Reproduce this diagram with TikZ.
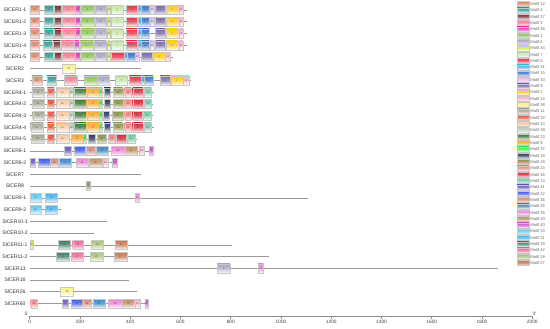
\documentclass[tikz,border=0pt]{standalone}
\usepackage{fontspec}
\setmainfont{Liberation Sans}
\usepackage{xcolor}
\usepackage{tikz}
\usetikzlibrary{positioning}

% motif colours
\definecolor{m12}{HTML}{E0876A}
\definecolor{m4}{HTML}{2E9E94}
\definecolor{m17}{HTML}{7B2F32}
\definecolor{m3}{HTML}{F47C93}
\definecolor{m26}{HTML}{E23CC4}
\definecolor{m1}{HTML}{8DC453}
\definecolor{m6}{HTML}{A8A6C4}
\definecolor{m34}{HTML}{C9F03A}
\definecolor{m7}{HTML}{C8E6A8}
\definecolor{m5}{HTML}{E8334A}
\definecolor{m31}{HTML}{3DB4F2}
\definecolor{m15}{HTML}{3A78D2}
\definecolor{m30}{HTML}{F0B4F0}
\definecolor{m9}{HTML}{7A6AAA}
\definecolor{m2}{HTML}{FFCC11}
\definecolor{m14}{HTML}{F8B4C8}
\definecolor{m38}{HTML}{F8F28A}
\definecolor{m11}{HTML}{A4A894}
\definecolor{m32}{HTML}{F0553A}
\definecolor{m10}{HTML}{FAC8A4}
\definecolor{m39}{HTML}{B8D4BC}
\definecolor{m23}{HTML}{3E7A34}
\definecolor{m8}{HTML}{F8A830}
\definecolor{m37}{HTML}{3EE85A}
\definecolor{m19}{HTML}{2A3A62}
\definecolor{m18}{HTML}{8A9648}
\definecolor{m24}{HTML}{F08484}
\definecolor{m16}{HTML}{D42A3C}
\definecolor{m13}{HTML}{74CCA4}
\definecolor{m41}{HTML}{6A58C8}
\definecolor{m22}{HTML}{3C5CF0}
\definecolor{m36}{HTML}{D48C80}
\definecolor{m25}{HTML}{3A88C8}
\definecolor{m35}{HTML}{F280D4}
\definecolor{m20}{HTML}{C0905E}
\definecolor{m40}{HTML}{CC52CC}
\definecolor{m33}{HTML}{5CCCF2}
\definecolor{m21}{HTML}{44B4F0}
\definecolor{m29}{HTML}{3E7E62}
\definecolor{m42}{HTML}{F0689A}
\definecolor{m28}{HTML}{A8C478}
\definecolor{m27}{HTML}{C47850}

\begin{document}
\begin{tikzpicture}[
    x=1bp, y=-1bp,
    gname/.style={font=\fontsize{5.1}{6}\selectfont, text=black!80, inner sep=0pt},
    backbone/.style={draw=black!40, line width=0.6bp},
    motifbox/.style={draw=black!22, line width=0.3bp, inner sep=0pt, minimum height=9bp, font=\fontsize{2.4}{2.8}\selectfont, text=black!70},
    legbox/.style={draw=black!22, line width=0.3bp, inner sep=0pt, minimum width=12bp, minimum height=5bp},
    legtext/.style={font=\fontsize{4.1}{5}\selectfont, text=black!60, inner sep=0.5bp},
    axisline/.style={draw=black!45, line width=0.6bp},
    ticklabel/.style={font=\fontsize{4.8}{5.5}\selectfont, text=black!75, inner sep=1bp},
]
\useasboundingbox (0,0) rectangle (550,328);

% Gene names and backbones (length in aa)
\foreach \i/\gname/\len in {0/SlCER1-1/625, 1/SlCER1-2/625, 2/SlCER1-3/625, 3/SlCER1-4/625,
    4/SlCER1-5/570, 5/SlCER2/443, 6/SlCER3/641, 7/SlCER4-1/493, 8/SlCER4-2/490,
    9/SlCER4-3/490, 10/SlCER4-4/495, 11/SlCER4-5/426, 12/SlCER6-1/495, 13/SlCER6-2/349,
    14/SlCER7/442, 15/SlCER8/662, 16/SlCER9-1/1108, 17/SlCER9-2/123, 18/SlCER10-1/309,
    19/SlCER10-2/255, 20/SlCER11-1/805, 21/SlCER11-2/954, 22/SlCER13/1863,
    23/SlCER16/396, 24/SlCER26/426, 25/SlCER60/476} {
  \pgfmathsetmacro{\yy}{10+11.74*\i}
  \node[gname] (g\i) at (15,\yy) {\gname};
  \coordinate (s\i) at (29.7,\yy);
  \coordinate (e\i) at ({29.7+0.2513*\len},\yy);
  \draw[backbone] (s\i) -- (e\i);
}

% Motifs: row / {start/end/motif}
\foreach \i/\mlist in {
    0/{1/38/12, 57/94/4, 97/126/17, 129/179/3, 181/200/26, 205/256/1, 259/306/6, 309/320/34, 325/373/7, 383/428/5, 431/444/31, 444/476/15, 479/495/30, 500/540/9, 542/590/2, 593/611/14},
    1/{1/38/12, 57/94/4, 97/126/17, 129/179/3, 181/200/26, 205/256/1, 259/306/6, 309/320/34, 325/373/7, 383/428/5, 431/444/31, 444/476/15, 479/495/30, 500/540/9, 542/590/2, 593/611/14},
    2/{1/38/12, 57/94/4, 97/126/17, 129/179/3, 181/200/26, 205/256/1, 259/306/6, 309/320/34, 325/373/7, 383/428/5, 431/444/31, 444/476/15, 500/540/9, 542/590/2, 593/611/14},
    3/{1/38/12, 53/90/4, 93/122/17, 125/175/3, 178/197/26, 201/252/1, 255/303/6, 309/320/34, 325/373/7, 383/428/5, 431/444/31, 444/476/15, 479/495/30, 500/540/9, 542/590/2, 593/611/14},
    4/{1/38/12, 57/94/4, 97/126/17, 129/179/3, 181/200/26, 205/256/1, 259/306/6, 309/320/34, 325/375/5, 378/388/31, 388/420/15, 420/436/30, 444/487/9, 490/540/2, 540/558/14},
    5/{131/179/38},
    6/{9/49/12, 68/107/4, 139/187/3, 216/267/1, 269/317/6, 341/388/7, 396/444/5, 444/455/31, 455/490/15, 519/559/9, 562/609/2, 611/633/14},
    7/{9/57/11, 70/97/32, 105/155/10, 158/174/39, 176/224/23, 227/275/8, 277/288/37, 296/322/19, 333/370/18, 378/404/24, 410/450/16, 455/484/13},
    8/{9/57/11, 70/97/32, 105/155/10, 158/174/39, 176/224/23, 227/275/8, 277/288/37, 296/322/19, 333/370/18, 378/404/24, 410/450/16, 455/484/13},
    9/{12/57/11, 70/97/32, 105/155/10, 158/174/39, 176/224/23, 227/275/8, 277/288/37, 292/318/19, 330/370/18, 378/404/24, 410/448/16, 452/482/13},
    10/{4/52/11, 70/97/32, 105/155/10, 158/174/39, 176/224/23, 227/275/8, 277/288/37, 296/322/19, 333/370/18, 378/404/24, 410/450/16, 455/484/13},
    11/{6/57/11, 70/97/32, 105/155/10, 166/213/8, 213/224/37, 232/259/19, 267/306/18, 312/341/24, 343/383/16, 388/418/13},
    12/{139/163/41, 176/221/22, 224/259/36, 264/312/25, 325/378/35, 380/426/20, 434/455/14, 474/490/40},
    13/{1/20/41, 33/81/22, 81/115/36, 118/163/25, 184/232/35, 235/288/20, 291/312/14, 328/346/40},
    15/{224/240/18},
    16/{1/44/33, 62/110/21, 420/436/35},
    17/{1/44/33, 62/110/21},
    20/{1/12/34, 113/160/29, 171/213/42, 245/293/28, 341/388/27},
    21/{107/155/29, 166/211/42, 240/291/28, 336/386/27},
    22/{747/797/6, 909/930/35},
    24/{123/174/38},
    25/{4/30/24, 129/152/41, 166/208/22, 211/245/36, 251/299/25, 314/367/35, 367/418/20, 418/440/14, 458/471/40}} {
  \foreach \s/\e/\m in \mlist {
    \pgfmathsetmacro{\yy}{10+11.74*\i}
    \pgfmathsetmacro{\xc}{29.7+0.2513*(\s+\e)/2}
    \pgfmathsetmacro{\ww}{0.2513*(\e-\s)}
    \node[motifbox, minimum width=\ww bp, top color=m\m, bottom color=m\m!6, middle color=m\m!75] (b\i-\m) at (\xc,\yy) {\m};
  }
}

% Axis
\coordinate (ax0) at (29.7,316);
\coordinate (ax1) at (532.3,316);
\draw[axisline] (ax0) -- (ax1);
\foreach \t in {0,200,...,2000} {
  \pgfmathsetmacro{\tx}{29.7+0.2513*\t}
  \draw[axisline] (\tx,316) -- (\tx,318.5);
  \node[ticklabel, below] (t\t) at (\tx,318.5) {\t};
}
\node[ticklabel] (p5) at (26.5,313.5) {5'};
\node[ticklabel] (p3) at (534.5,313.5) {3'};

% Legend
\foreach \m [count=\k from 0] in {12,4,17,3,26,1,6,34,7,5,31,15,30,9,2,14,38,11,32,10,39,23,8,37,19,18,24,16,13,41,22,36,25,35,20,40,33,21,29,42,28,27} {
  \pgfmathsetmacro{\yy}{4+6.32*\k}
  \node[legbox, top color=m\m, bottom color=m\m!6, middle color=m\m!75] (l\m) at (523,\yy) {};
  \node[legtext, right=0.6bp of l\m] (lt\m) {Motif \m};
}

\end{tikzpicture}
\end{document}
